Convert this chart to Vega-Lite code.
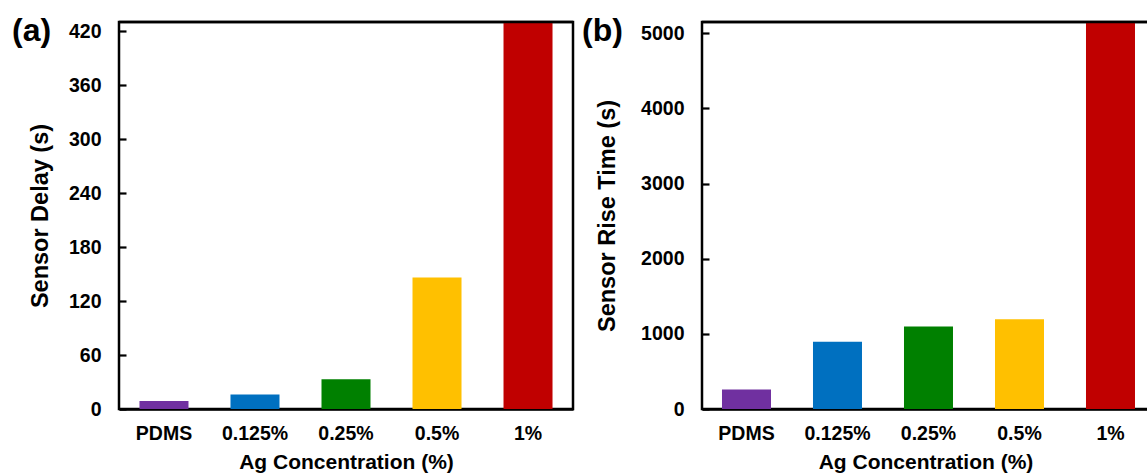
{
  "$schema": "https://vega.github.io/schema/vega-lite/v6.json",
  "padding": {"left": 10, "top": 13, "right": 0, "bottom": 0},
  "background": "white",
  "config": {
    "font": "Liberation Sans",
    "view": {"stroke": "black", "strokeWidth": 2.5},
    "axisX": {
      "ticks": false,
      "domain": true,
      "domainColor": "black",
      "domainWidth": 2.5,
      "zindex": 1,
      "labelAngle": 0,
      "labelFontSize": 19.5,
      "labelFontWeight": "bold",
      "labelColor": "black",
      "labelPadding": 15,
      "titleFontSize": 21,
      "titleFontWeight": "bold",
      "titleColor": "black",
      "titlePadding": 9,
      "grid": false
    },
    "axisY": {
      "domain": false,
      "grid": false,
      "zindex": 2,
      "offset": -7,
      "ticks": true,
      "tickSize": 7,
      "tickColor": "black",
      "tickWidth": 2.2,
      "tickOpacity": 1,
      "labelFontSize": 19.5,
      "labelFontWeight": "bold",
      "labelColor": "black",
      "labelPadding": 18,
      "titleFontSize": 23.5,
      "titleFontWeight": "bold",
      "titleColor": "black",
      "titlePadding": 16
    }
  },
  "datasets": {
    "delay": [
      {"sample": "PDMS", "value": 9},
      {"sample": "0.125%", "value": 16},
      {"sample": "0.25%", "value": 33},
      {"sample": "0.5%", "value": 146},
      {"sample": "1%", "value": 430}
    ],
    "rise": [
      {"sample": "PDMS", "value": 260},
      {"sample": "0.125%", "value": 895},
      {"sample": "0.25%", "value": 1098},
      {"sample": "0.5%", "value": 1196},
      {"sample": "1%", "value": 5150}
    ]
  },
  "spacing": 4,
  "hconcat": [
    {
      "width": 454,
      "height": 387,
      "title": {"text": "(a)", "anchor": "start", "frame": "group", "orient": "top", "offset": -42, "baseline": "middle", "dx": -107, "fontSize": 32, "fontWeight": "bold", "color": "black"},
      "layer": [
        {
          "data": {"name": "delay"},
          "mark": {"type": "bar", "clip": true},
          "encoding": {
            "x": {"field": "sample", "type": "nominal", "sort": null, "title": "Ag Concentration (%)",
                  "scale": {"paddingInner": 0.4615, "paddingOuter": 0.225}},
            "y": {"field": "value", "type": "quantitative", "title": "Sensor Delay (s)",
                  "scale": {"domain": [0, 430], "nice": false, "zero": true},
                  "axis": {"values": [0, 30, 60, 90, 120, 150, 180, 210, 240, 270, 300, 330, 360, 390, 420],
                           "labelExpr": "datum.value % 60 === 0 ? datum.label : ''"}},
            "color": {"field": "sample", "type": "nominal", "legend": null,
                      "scale": {"domain": ["PDMS", "0.125%", "0.25%", "0.5%", "1%"],
                                "range": ["#7030A0", "#0070C0", "#008000", "#FFC000", "#C00000"]}}
          }
        },
        {
          "data": {"values": [{}]},
          "mark": {"type": "rule", "color": "black", "strokeWidth": 2.5},
          "encoding": {"y": {"datum": 430}}
        }
      ]
    },
    {
      "width": 447,
      "height": 387,
      "title": {"text": "(b)", "anchor": "start", "frame": "group", "orient": "top", "offset": -42, "baseline": "middle", "dx": -120, "fontSize": 32, "fontWeight": "bold", "color": "black"},
      "layer": [
        {
          "data": {"name": "rise"},
          "mark": {"type": "bar", "clip": true},
          "encoding": {
            "x": {"field": "sample", "type": "nominal", "sort": null, "title": "Ag Concentration (%)",
                  "scale": {"paddingInner": 0.4615, "paddingOuter": 0.1868, "align": 0.588}},
            "y": {"field": "value", "type": "quantitative", "title": "Sensor Rise Time (s)",
                  "scale": {"domain": [0, 5150], "nice": false, "zero": true},
                  "axis": {"values": [0, 500, 1000, 1500, 2000, 2500, 3000, 3500, 4000, 4500, 5000],
                           "labelExpr": "datum.value % 1000 === 0 ? datum.label : ''", "format": "d", "titlePadding": 21}},
            "color": {"field": "sample", "type": "nominal", "legend": null,
                      "scale": {"domain": ["PDMS", "0.125%", "0.25%", "0.5%", "1%"],
                                "range": ["#7030A0", "#0070C0", "#008000", "#FFC000", "#C00000"]}}
          }
        },
        {
          "data": {"values": [{}]},
          "mark": {"type": "rule", "color": "black", "strokeWidth": 2.5},
          "encoding": {"y": {"datum": 5150}}
        }
      ]
    }
  ],
  "resolve": {"scale": {"y": "independent", "x": "independent"}}
}
